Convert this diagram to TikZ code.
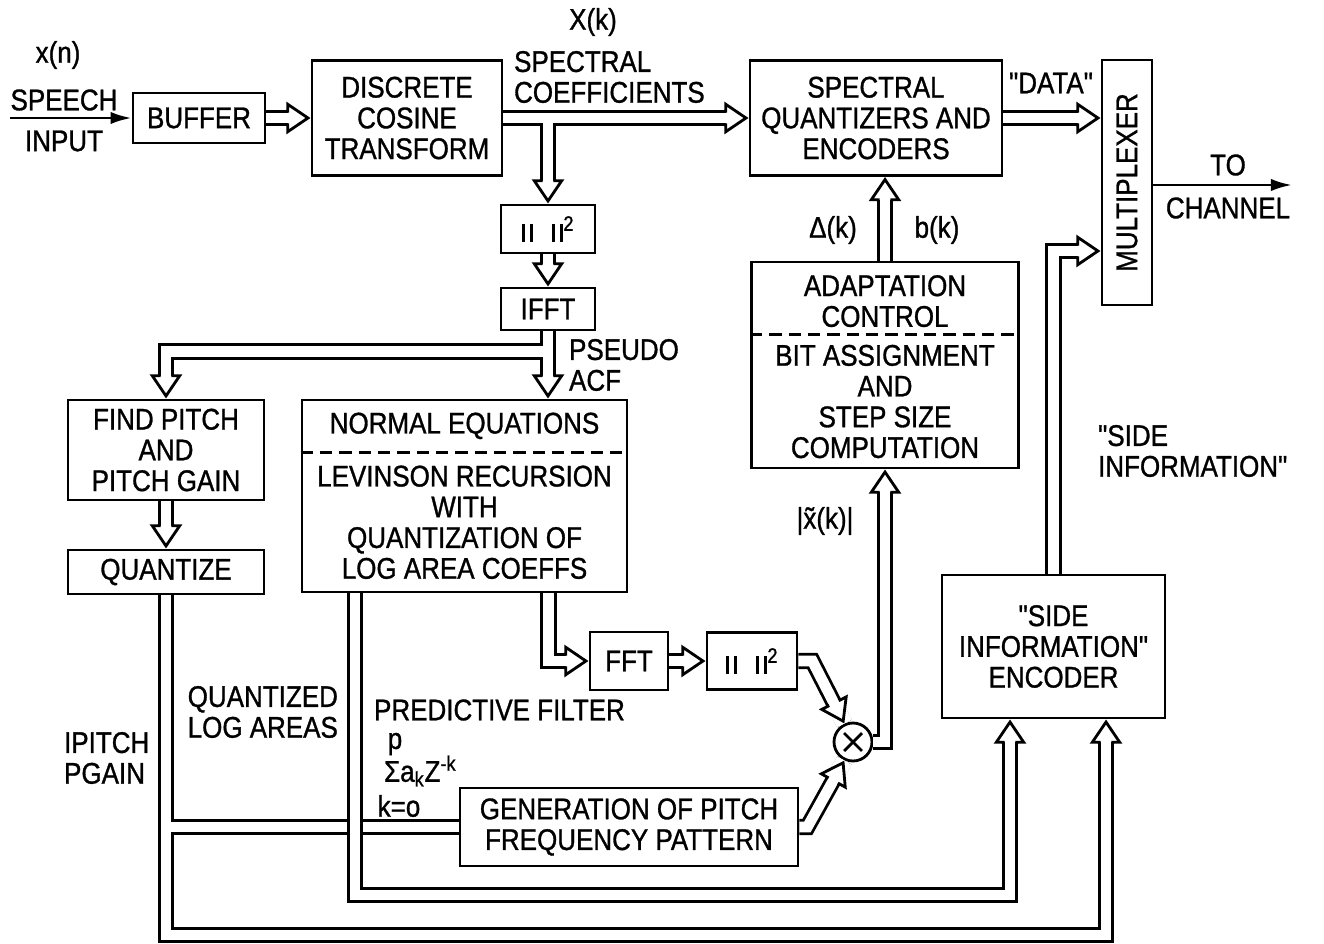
\documentclass[tikz,border=0pt]{standalone}
\usepackage{fontspec}
\setmainfont{Liberation Sans}[FakeStretch=0.87, FakeBold=1, Ligatures=TeXOff]
\usetikzlibrary{arrows.meta,positioning,calc,decorations.markings}

% squared magnitude sign || ||^2
\newcommand{\sqnorm}{\rule{1.7pt}{10pt}\hspace{3pt}\rule{1.7pt}{10pt}\hspace{11pt}%
	\rule{1.7pt}{10pt}\hspace{3pt}\rule{1.7pt}{10pt}\textsuperscript{2}}

\tikzset{
	blk/.style={draw, line width=1.6pt, align=center, inner sep=2pt},
	lbl/.style={inner sep=1pt, align=center},
	divider/.style={line width=1.6pt, dash pattern=on 7pt off 4pt},
	dbl/.style={draw=white, line width=6.1pt,
		preaction={draw=black, line width=9.3pt}},
	dhead/.style={postaction={decorate, decoration={markings,
		mark=at position 1 with {
			\fill[white] (-13pt,-4.8pt) rectangle (0pt,4.8pt);
			\fill[white] (-1.5pt,0pt) -- (-13pt,7.8pt) -- (-13pt,-7.8pt) -- cycle;
			\draw[black, line width=1.6pt, line join=miter]
				(-14pt,3.85pt) -- (-13pt,3.85pt) -- (-13pt,7.8pt) -- (-1.5pt,0pt)
				-- (-13pt,-7.8pt) -- (-13pt,-3.85pt) -- (-14pt,-3.85pt);
		}}}},
	sarr/.style={line width=1.6pt, -{Latex[length=12pt,width=7pt]}},
}

\begin{document}
\begin{tikzpicture}[x=0.02cm, y=-0.02cm, font=\fontsize{17pt}{17.5pt}\selectfont]
	\useasboundingbox (0,0) rectangle (1324,943);

	% Top row (y=118)
	\coordinate (src) at (10,118);
	\node[blk, minimum width=2.64cm, minimum height=1cm]   at (199,118)    (buffer) {BUFFER};
	\node[blk, minimum width=3.8cm, minimum height=2.3cm]  at (407,118)    (dct)    {DISCRETE\\COSINE\\TRANSFORM};
	\node[blk, minimum width=5.04cm, minimum height=2.3cm] at (876,118)    (sq)     {SPECTRAL\\QUANTIZERS AND\\ENCODERS};
	\node[blk, minimum width=1cm, minimum height=4.9cm]    at (1127,182.5) (mux)    {\rotatebox{90}{MULTIPLEXER}};
	\coordinate (out) at (1292,185);

	% Pseudo ACF column
	\node[blk, minimum width=1.88cm, minimum height=0.96cm] at (548,229) (mag1) {\sqnorm};
	\node[blk, minimum width=1.88cm, minimum height=0.84cm] at (548,309) (ifft) {IFFT};

	% Pitch column
	\node[blk, minimum width=3.92cm, minimum height=2cm]    at (166,450) (pitch) {FIND PITCH\\AND\\PITCH GAIN};
	\node[blk, minimum width=3.92cm, minimum height=0.88cm] at (166,572) (quant) {QUANTIZE};

	% Levinson block (split)
	\node[blk, minimum width=6.5cm, minimum height=3.84cm] at (464.5,496) (lev) {};
	\node[lbl] at ($(lev.north)!0.14!(lev.south)$)  (levtop) {NORMAL EQUATIONS};
	\node[lbl] at ($(lev.north)!0.635!(lev.south)$) (levbot) {LEVINSON RECURSION\\WITH\\QUANTIZATION OF\\LOG AREA COEFFS};
	\draw[divider] ($(lev.north west)!0.276!(lev.south west)$) -- ($(lev.north east)!0.276!(lev.south east)$);

	% Adaptation block (split)
	\node[blk, minimum width=5.34cm, minimum height=4.12cm] at (885,365) (adapt) {};
	\node[lbl] at ($(adapt.north)!0.194!(adapt.south)$) (adtop) {ADAPTATION\\CONTROL};
	\node[lbl] at ($(adapt.north)!0.675!(adapt.south)$) (adbot) {BIT ASSIGNMENT\\AND\\STEP SIZE\\COMPUTATION};
	\draw[divider] ($(adapt.north west)!0.354!(adapt.south west)$) -- ($(adapt.north east)!0.354!(adapt.south east)$);

	% Lower row
	\node[blk, minimum width=1.56cm, minimum height=1.16cm] at (629,661)  (fft)  {FFT};
	\node[blk, minimum width=1.8cm, minimum height=1.14cm]  at (752,661)  (mag2) {\sqnorm};
	\node[draw, circle, line width=1.6pt, minimum size=0.76cm, inner sep=0pt] at (853,742) (mul) {};
	\node[blk, minimum width=6.76cm, minimum height=1.56cm] at (629,827)  (gen)  {GENERATION OF PITCH\\FREQUENCY PATTERN};
	\node[blk, minimum width=4.46cm, minimum height=2.86cm] at (1053.5,646.5) (side) {"SIDE\\INFORMATION"\\ENCODER};

	% Labels
	\node[lbl] at (58,55)   (xn)     {x(n)};
	\node[lbl] at (64,100)  (speech) {SPEECH};
	\node[lbl] at (64,141)  (inp)    {INPUT};
	\node[lbl] at (593,22)  (xk)     {X(k)};
	\node[lbl, align=left, anchor=west] at (512,77)  (spc) {SPECTRAL\\COEFFICIENTS};
	\node[lbl, align=left, anchor=west] at (567,365) (acf) {PSEUDO\\ACF};
	\node[lbl] at (1051,83)  (data)   {"DATA"};
	\node[lbl] at (1228,165) (tolbl)  {TO};
	\node[lbl] at (1228,208) (chan)   {CHANNEL};
	\node[lbl] at (833,230)  (dk)     {Δ(k)};
	\node[lbl] at (937,230)  (bk)     {b(k)};
	\node[lbl] at (825,521)  (xmag)   {|\~{x}(k)|};
	\node[lbl, align=left, anchor=west]  at (1096,451) (sinfo) {"SIDE\\INFORMATION"};
	\node[lbl, align=left, anchor=west]  at (62,758)   (ipg)   {IPITCH\\PGAIN};
	\node[lbl, align=right, anchor=east] at (340,712)  (qla)   {QUANTIZED\\LOG AREAS};
	\node[lbl, anchor=west] at (372,710) (pf)   {PREDICTIVE FILTER};
	\node[lbl] at (395,744)              (sump) {p};
	\node[lbl, anchor=west] at (382,771) (sumx) {Σa\textsubscript{k}Z\textsuperscript{-k}};
	\node[lbl] at (399,806)              (sumk) {k=o};

	% speech in, channel out
	\draw[sarr] (src) -- (buffer.west);
	\draw[sarr] (mux.east |- out) -- (out);

	% top row
	\draw[dbl,dhead] (buffer) -- (dct);
	\draw[dbl] (dct.east) -- (sq.west) (dct.east -| mag1.north) -- (mag1.north);
	\path[dhead] (dct.east) -- (sq.west);
	\path[dhead] (dct.east -| mag1.north) -- (mag1.north);
	\draw[dbl,dhead] (mag1) -- (ifft);

	% pseudo ACF to pitch and normal equations
	\coordinate (split) at ($(ifft.south)!0.3!(ifft.south |- lev.north)$);
	\draw[dbl] (ifft.south) -- (ifft.south |- lev.north) (split) -| (pitch.north);
	\path[dhead] (ifft.south) -- (ifft.south |- lev.north);
	\path[dhead] (split) -| (pitch.north);
	\draw[dbl,dhead] (pitch) -- (quant);

	% side information buses
	\coordinate (pbus) at (0,935);
	\coordinate (lbus) at (0,895);
	\coordinate (sideL) at ($(side.south)+(-43.5,0)$);
	\coordinate (sideR) at ($(side.south)+(52.5,0)$);
	\draw[dbl] (quant.south) -- (quant.south |- pbus) -| (sideR)
		(quant.south |- gen.west) -- (gen.west);
	\path[dhead] (quant.south |- pbus) -| (sideR);
	\coordinate (levq) at ($(lev.south west)+(54.5,0)$);
	\coordinate (levf) at ($(lev.south west)+(248,0)$);
	\draw[dbl,dhead] (levq) -- (levq |- lbus) -| (sideL);

	% spectral envelope path
	\draw[dbl,dhead] (levf) |- (fft.west);
	\draw[dbl,dhead] (fft) -- (mag2);
	\draw[dbl,dhead] (mag2.east) -- ++(14,0) -- (mul.115);
	\draw[dbl,dhead] (gen.east) -- ++(8,0) -- (mul.245);
	\draw[line width=1.6pt] ($(mul.center)!0.62!(mul.45)$) -- ($(mul.center)!0.62!(mul.225)$)
		($(mul.center)!0.62!(mul.135)$) -- ($(mul.center)!0.62!(mul.315)$);
	\draw[dbl,dhead] (mul.east) -| (adapt.south);
	\draw[dbl,dhead] (adapt.north) -- (adapt.north |- sq.south);

	% multiplexer inputs
	\draw[dbl,dhead] (sq.east) -- (sq.east -| mux.west);
	\coordinate (muxs) at ($(mux.west)+(0,68.5)$);
	\draw[dbl,dhead] (side.north) |- (muxs);
\end{tikzpicture}
\end{document}
